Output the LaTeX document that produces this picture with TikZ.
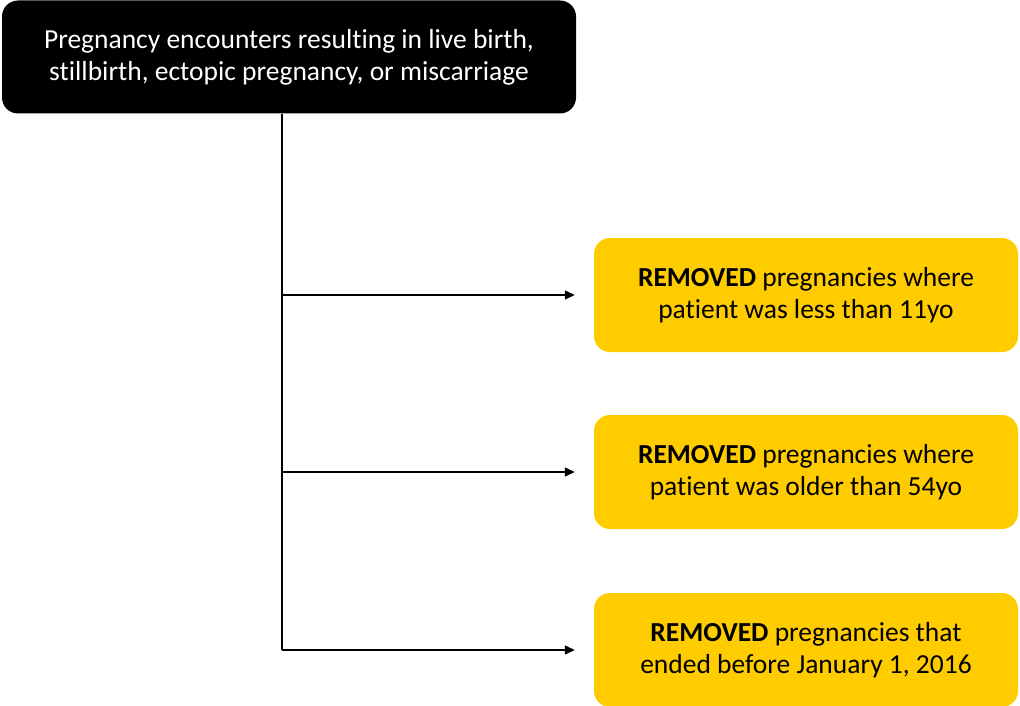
\documentclass[tikz,border=0pt]{standalone}
\usepackage{fontspec}
\setmainfont[Ligatures=NoCommon]{Carlito}
\usepackage{xcolor}
\usetikzlibrary{arrows.meta}
\definecolor{flowyellow}{RGB}{255,204,0}
\tikzstyle{startbox}=[fill=black,text=white,rounded corners=16pt,minimum width=574pt,minimum height=113pt,align=center,inner sep=0pt,font=\fontsize{27.5}{32}\selectfont]
\tikzstyle{removedbox}=[fill=flowyellow,text=black,rounded corners=16pt,minimum width=424pt,minimum height=114pt,align=center,inner sep=0pt,font=\fontsize{27.5}{32}\selectfont]
\tikzstyle{trunk}=[line width=1.3pt]
\tikzstyle{branch}=[line width=1.3pt,-{Triangle[length=10pt,width=9pt]},shorten >=19pt]

\begin{document}
\begin{tikzpicture}[x=1pt,y=-1pt]
	\useasboundingbox (0,0) rectangle (1020,706);
	\node[startbox] (start) at (289,57) {Pregnancy encounters resulting in live birth,\\stillbirth, ectopic pregnancy, or miscarriage};
	\node[removedbox] (rm1) at (806,295) {\textbf{REMOVED} pregnancies where\\patient was less than 11yo};
	\node[removedbox] (rm2) at (806,472) {\textbf{REMOVED} pregnancies where\\patient was older than 54yo};
	\node[removedbox] (rm3) at (806,650) {\textbf{REMOVED} pregnancies that\\ended before January 1, 2016};
	\coordinate (tx) at (282,0);
	\draw[trunk] (start.south -| tx) -- (tx |- rm3);
	\foreach \n in {1,2,3}
		\draw[branch] (tx |- rm\n) -- (rm\n.west);
\end{tikzpicture}
\end{document}
